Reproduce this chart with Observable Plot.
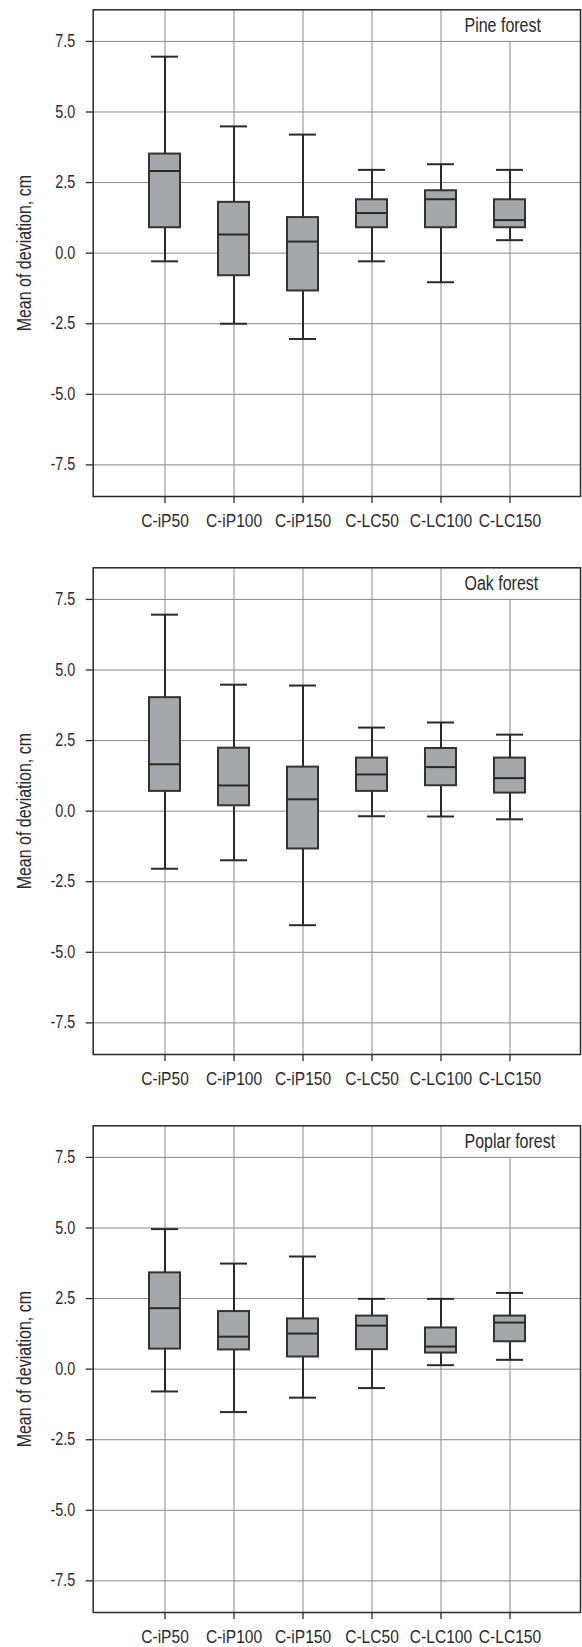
<!DOCTYPE html>
<html>
<head>
<meta charset="utf-8">
<script src="https://cdn.jsdelivr.net/npm/d3@7"></script>
<script src="https://cdn.jsdelivr.net/npm/@observablehq/plot@0.6"></script>
<style>
  html, body { margin: 0; padding: 0; background: #fff; }
  #chart svg { display: block; }
</style>
</head>
<body>
<div id="chart"></div>
<script>
// ---- data ----
const categories = ["C-iP50", "C-iP100", "C-iP150", "C-LC50", "C-LC100", "C-LC150"];
const forests = ["Pine forest", "Oak forest", "Poplar forest"];
const yTicks = [-7.5, -5.0, -2.5, 0.0, 2.5, 5.0, 7.5];
const yLabel = "Mean of deviation, cm";

const pineMax    = [6.96, 4.49, 4.20, 2.95, 3.15, 2.95];
const pineQ3     = [3.51, 1.80, 1.26, 1.89, 2.21, 1.89];
const pineMedian = [2.91, 0.66, 0.41, 1.42, 1.91, 1.17];
const pineQ1     = [0.90, -0.80, -1.34, 0.90, 0.90, 0.90];
const pineMin    = [-0.29, -2.50, -3.04, -0.29, -1.03, 0.46];

const oakMax    = [6.96, 4.48, 4.45, 2.96, 3.14, 2.71];
const oakQ3     = [4.02, 2.23, 1.56, 1.88, 2.22, 1.88];
const oakMedian = [1.66, 0.91, 0.42, 1.30, 1.56, 1.17];
const oakQ1     = [0.70, 0.19, -1.34, 0.70, 0.90, 0.64];
const oakMin    = [-2.04, -1.74, -4.04, -0.18, -0.19, -0.29];

const poplarMax    = [4.96, 3.74, 3.99, 2.49, 2.49, 2.70];
const poplarQ3     = [3.41, 2.04, 1.78, 1.88, 1.46, 1.88];
const poplarMedian = [2.16, 1.15, 1.26, 1.54, 0.80, 1.65];
const poplarQ1     = [0.71, 0.68, 0.43, 0.69, 0.57, 0.97];
const poplarMin    = [-0.79, -1.52, -1.01, -0.67, 0.14, 0.33];

const series = [
  [pineMin, pineQ1, pineMedian, pineQ3, pineMax],
  [oakMin, oakQ1, oakMedian, oakQ3, oakMax],
  [poplarMin, poplarQ1, poplarMedian, poplarQ3, poplarMax]
];

// ---- drawing ----
const font = "'Liberation Sans', Arial, sans-serif";
const condense = 0.82; // emulate the narrow typeface of the original
const yDomain = [-8.62, 8.62];
const ink = "#2a2a2a";
const gridColor = "#8a8a8a";
const boxFill = "#a6a7aa";

const container = document.getElementById("chart");

forests.forEach((title, fi) => {
  const [mn, q1, md, q3, mx] = series[fi];
  const rows = categories.map((c, i) => ({cat: c, min: mn[i], q1: q1[i], median: md[i], q3: q3[i], max: mx[i]}));
  const gridRows = categories.map(c => ({cat: c, top: c === categories[categories.length - 1] ? yTicks[yTicks.length - 1] : yDomain[1]}));
  const isLast = fi === forests.length - 1;

  const svg = Plot.plot({
    width: 582,
    height: isLast ? 531 : 558,
    marginLeft: 92.7,
    marginRight: 2,
    marginTop: 9.3,
    marginBottom: isLast ? 35 : 62,
    style: {fontFamily: font, color: ink, background: "#fff", overflow: "visible"},
    x: {type: "band", domain: categories, paddingInner: 0.556, paddingOuter: 0.778, axis: null},
    y: {domain: yDomain, axis: null},
    marks: [
      // grid
      Plot.ruleY(yTicks, {stroke: gridColor, strokeWidth: 1}),
      Plot.ruleX(gridRows, {x: "cat", y1: yDomain[0], y2: "top", stroke: gridColor, strokeWidth: 1}),
      // axes
      Plot.axisX({tickSize: 7, tickPadding: 10, fontSize: 19, stroke: ink, strokeWidth: 1.3, fill: ink, label: null}),
      Plot.axisY({ticks: yTicks, tickSize: 7, tickPadding: 11, fontSize: 17.5, tickFormat: d => d.toFixed(1), stroke: ink, strokeWidth: 1.3, fill: ink, label: null}),
      Plot.text([yLabel], {frameAnchor: "left", rotate: -90, dx: -68.7, fontSize: 19.5, textAnchor: "middle", lineAnchor: "middle", fill: ink}),
      // boxplots
      Plot.ruleX(rows, {x: "cat", y1: "min", y2: "max", stroke: ink, strokeWidth: 2}),
      Plot.tickY(rows, {x: "cat", y: "max", insetLeft: 2, insetRight: 2, stroke: ink, strokeWidth: 2}),
      Plot.tickY(rows, {x: "cat", y: "min", insetLeft: 2, insetRight: 2, stroke: ink, strokeWidth: 2}),
      Plot.barY(rows, {x: "cat", y1: "q1", y2: "q3", fill: boxFill, stroke: "#333", strokeWidth: 2}),
      Plot.tickY(rows, {x: "cat", y: "median", stroke: ink, strokeWidth: 2}),
      // frame
      Plot.frame({stroke: ink, strokeWidth: 1.5}),
      // panel title
      Plot.text([title], {frameAnchor: "top-right", dx: -116, dy: 8, textAnchor: "start", lineAnchor: "top", fontSize: 19.5, fill: ink})
    ]
  });

  // condense glyphs horizontally around each text's own anchor
  svg.querySelectorAll("text").forEach(t => {
    const tr = t.getAttribute("transform");
    if (tr) {
      t.setAttribute("transform", tr + ` scale(${condense},1)`);
    } else {
      const x = +(t.getAttribute("x") || 0);
      t.setAttribute("transform", `translate(${x},0) scale(${condense},1) translate(${-x},0)`);
    }
  });

  container.appendChild(svg);
});
</script>
</body>
</html>
